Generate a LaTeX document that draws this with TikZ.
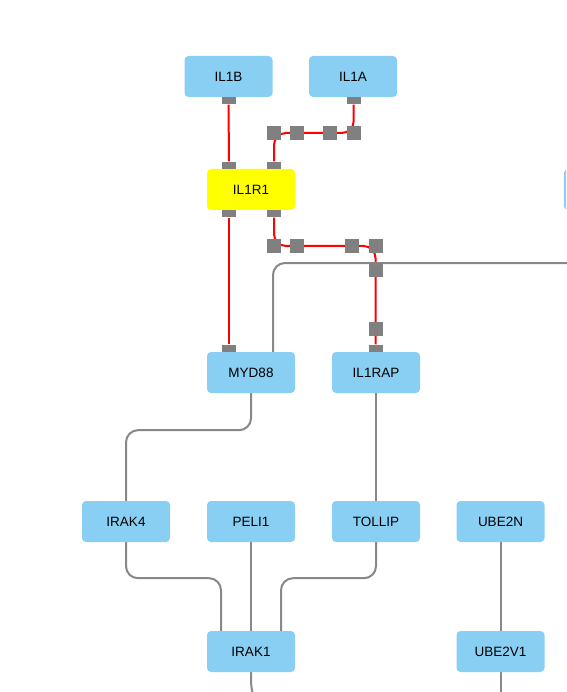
\documentclass[tikz,border=0pt]{standalone}
\usepackage{fontspec}
\setmainfont{Liberation Sans}
\usetikzlibrary{backgrounds}
\definecolor{geneblue}{HTML}{89CFF4}
\definecolor{hubyellow}{HTML}{FFFF00}
\definecolor{portgray}{HTML}{808080}
\definecolor{linkgray}{HTML}{888888}

\begin{document}
\begin{tikzpicture}[x=1pt, y=-1pt, font=\fontsize{13.5}{15}\selectfont,
  gene/.style={fill=geneblue, rounded corners=4pt, minimum width=88pt, minimum height=41pt, inner sep=0pt},
  port/.style={fill=portgray, minimum width=14pt, minimum height=7pt, inner sep=0pt},
  knot/.style={fill=portgray, minimum size=14pt, inner sep=0pt},
  bond/.style={red, line width=2pt, rounded corners=12pt},
  link/.style={linkgray, line width=2pt, rounded corners=12pt}]
\clip (0,0) rectangle (566,692);

% genes
\node[gene] (il1b) at (228.5,76.5) {IL1B};
\node[gene] (il1a) at (353,76.5) {IL1A};
\node[gene, fill=hubyellow] (il1r1) at (251,189.5) {IL1R1};
\node[gene] (offgene) at (608,189.5) {};
\node[gene] (myd88) at (251,372.5) {MYD88};
\node[gene] (il1rap) at (376,372.5) {IL1RAP};
\node[gene] (irak4) at (126,521.5) {IRAK4};
\node[gene] (peli1) at (251,521.5) {PELI1};
\node[gene] (tollip) at (376,521.5) {TOLLIP};
\node[gene] (ube2n) at (500.5,521.5) {UBE2N};
\node[gene] (irak1) at (251,651.5) {IRAK1};
\node[gene] (ube2v1) at (500.5,651.5) {UBE2V1};

% ports
\node[port, anchor=north] (il1b-s) at (il1b.south) {};
\node[port, anchor=north] (il1a-s) at ([xshift=0.7pt]il1a.south) {};
\node[port, anchor=south] (il1r1-n1) at ([xshift=-22pt]il1r1.north) {};
\node[port, anchor=south] (il1r1-n2) at ([xshift=23pt]il1r1.north) {};
\node[port, anchor=north] (il1r1-s1) at ([xshift=-22pt]il1r1.south) {};
\node[port, anchor=north] (il1r1-s2) at ([xshift=23pt]il1r1.south) {};
\node[port, anchor=south] (myd88-n) at ([xshift=-22pt]myd88.north) {};
\node[port, anchor=south] (il1rap-n) at ([xshift=-0.5pt]il1rap.north) {};

% knots
\foreach \kx [count=\i] in {273.5,297,329.7,353.7} {\node[knot] (ka\i) at (\kx,133) {};}
\foreach \kx [count=\i] in {273.7,297,352,375.5} {\node[knot] (kb\i) at (\kx,246) {};}
\node[knot] (kc1) at (375.5,269.5) {};
\node[knot] (kc2) at (375.5,329) {};

\coordinate (offedge) at (580,263);
\coordinate (irak1-out) at (254,700);
\coordinate (ube2v1-out) at (500.5,700);

\begin{scope}[on background layer]
\draw[bond] (il1b-s.south) -- (il1r1-n1.north);
\draw[bond] (il1r1-n2.north) |- (ka2.center) -- (ka3.center) -| (il1a-s.south);
\draw[bond] (il1r1-s1.south) -- (myd88-n.north);
\draw[bond] (il1r1-s2.south) |- (kb2.center) -- (kb3.center) -| (il1rap-n.north);

\draw[link] ([xshift=22pt]myd88.north) |- (offedge);
\draw[link] (myd88.south) -- ++(0,37) -| (irak4.north);
\draw[link] (il1rap.south) -- (tollip.north);
\draw[link] (irak4.south) -- ++(0,36) -| ([xshift=-30pt]irak1.north);
\draw[link] (peli1.south) -- (irak1.north);
\draw[link] (tollip.south) -- ++(0,36) -| ([xshift=30pt]irak1.north);
\draw[link] (ube2n.south) -- (ube2v1.north);
\draw[link] (irak1.south) .. controls (251,686) .. (irak1-out);
\draw[link] (ube2v1.south) -- (ube2v1-out);
\end{scope}
\end{tikzpicture}
\end{document}
